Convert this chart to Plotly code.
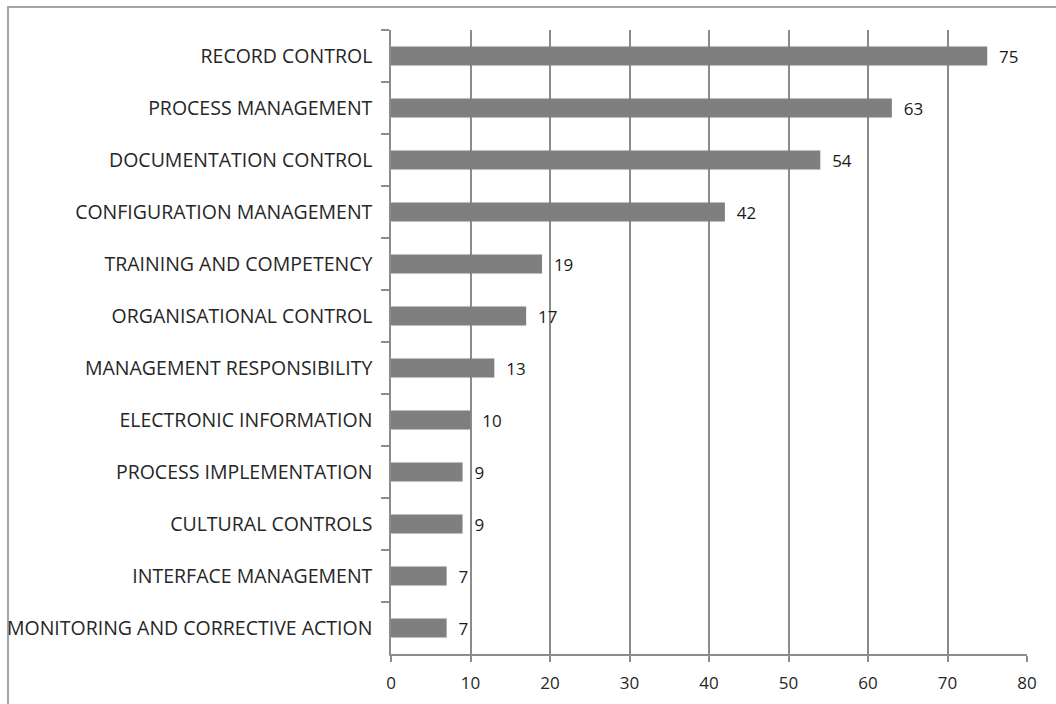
import plotly.graph_objects as go

categories = [
    "RECORD CONTROL",
    "PROCESS MANAGEMENT",
    "DOCUMENTATION CONTROL",
    "CONFIGURATION MANAGEMENT",
    "TRAINING AND COMPETENCY",
    "ORGANISATIONAL CONTROL",
    "MANAGEMENT RESPONSIBILITY",
    "ELECTRONIC INFORMATION",
    "PROCESS IMPLEMENTATION",
    "CULTURAL CONTROLS",
    "INTERFACE MANAGEMENT",
    "MONITORING AND CORRECTIVE ACTION",
]
counts = [75, 63, 54, 42, 19, 17, 13, 10, 9, 9, 7, 7]
x_ticks = [0, 10, 20, 30, 40, 50, 60, 70, 80]

W, H = 1056, 704
L, R, T, B = 391, 29, 30, 50
pw, ph = W - L - R, H - T - B

FONT = "Open Sans"
TEXT_COLOR = "#262626"

fig = go.Figure(
    go.Bar(
        x=counts,
        y=categories,
        orientation="h",
        width=0.37,
        marker=dict(color="#7f7f7f", line=dict(width=0)),
        text=[str(v) for v in counts],
        texttemplate="  %{text}",
        textposition="outside",
        constraintext="none",
        cliponaxis=False,
        textfont=dict(family=FONT, size=17, color="#1a1a1a"),
    )
)

fig.update_layout(
    width=W,
    height=H,
    margin=dict(l=L, r=R, t=T, b=B, autoexpand=False),
    paper_bgcolor="white",
    plot_bgcolor="white",
    showlegend=False,
    font=dict(family=FONT, size=18, color=TEXT_COLOR),
    uniformtext=dict(minsize=17, mode="show"),
    shapes=[
        # outer chart frame
        dict(
            type="rect",
            xref="paper",
            yref="paper",
            x0=(8 - L) / pw,
            x1=1.2,
            y0=-0.3,
            y1=(H - B - 7) / ph,
            line=dict(color="#a6a6a6", width=2),
            layer="below",
        )
    ],
)

fig.update_xaxes(
    range=[0, 80],
    tickvals=x_ticks,
    automargin=False,
    showgrid=True,
    gridcolor="#8c8c8c",
    gridwidth=1.5,
    zeroline=False,
    showline=True,
    linecolor="#8c8c8c",
    linewidth=1.5,
    ticks="outside",
    ticklen=6,
    tickcolor="#8c8c8c",
    tickwidth=1.5,
    ticklabelstandoff=7,
    tickfont=dict(family=FONT, size=17, color=TEXT_COLOR),
    fixedrange=True,
)
fig.update_yaxes(
    autorange="reversed",
    automargin=False,
    showgrid=False,
    showline=True,
    linecolor="#8c8c8c",
    linewidth=1.5,
    ticks="outside",
    tickson="boundaries",
    ticklen=8,
    tickcolor="#8c8c8c",
    tickwidth=1.5,
    ticklabelstandoff=13,
    tickfont=dict(family=FONT, size=19.5, color=TEXT_COLOR),
    fixedrange=True,
)

fig.write_html("out.html")
